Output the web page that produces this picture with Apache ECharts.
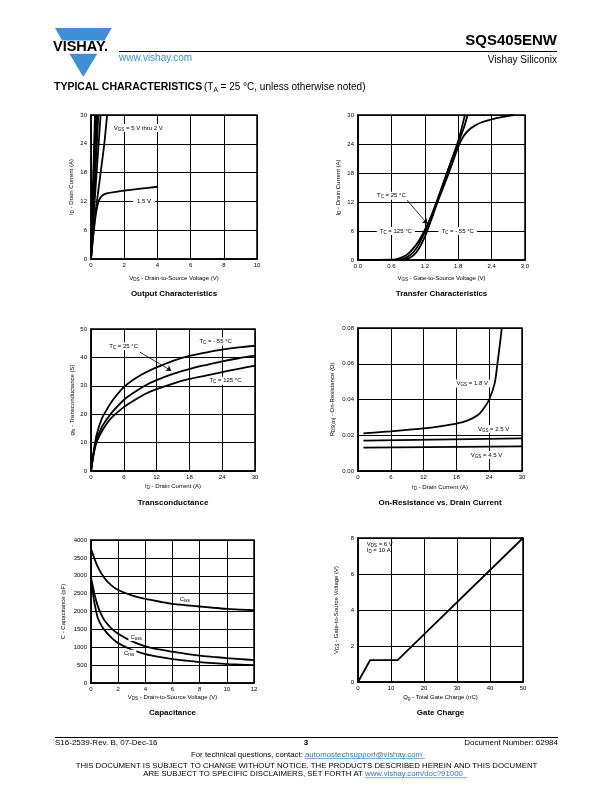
<!DOCTYPE html>
<html><head><meta charset="utf-8">
<script src="https://cdn.jsdelivr.net/npm/echarts@6/dist/echarts.min.js"></script>
<style>html,body{margin:0;padding:0;background:#fff}#c{width:612px;height:792px}</style>
</head><body><div id="c"></div>
<script>
// ================= DATA =================
// Output Characteristics (x: VDS V, y: ID A)
const outputXTicks = [0, 2, 4, 6, 8, 10];
const outputYTicks = [0, 6, 12, 18, 24, 30];
const outVgs5V   = [[0, 0], [0.24, 30]];
const outVgs4p5V = [[0, 0], [0.27, 30]];
const outVgs4V   = [[0, 0], [0.31, 30]];
const outVgs3p5V = [[0, 0], [0.36, 30]];
const outVgs3V   = [[0, 0], [0.44, 30]];
const outVgs2p5V = [[0, 0], [0.2, 11], [0.4, 21], [0.58, 30]];
const outVgs2V   = [[0, 0], [0.15, 6], [0.3, 10.5], [0.45, 14.5], [0.6, 18.5], [0.8, 24], [0.97, 30]];
const outVgs1p5V = [[0, 0], [0.1, 3.5], [0.2, 6.8], [0.3, 9.5], [0.4, 11.3], [0.5, 12.4], [0.7, 13.3], [1, 13.7], [1.5, 14.0], [2, 14.25], [3, 14.65], [4, 15.05]];

// Transfer Characteristics (x: VGS V, y: ID A)
const transferXTicks = [0, 0.6, 1.2, 1.8, 2.4, 3.0];
const transferYTicks = [0, 6, 12, 18, 24, 30];
const transferTc125 = [[0, 0], [0.6, 0.05], [0.7, 0.2], [0.8, 0.6], [0.9, 1.3], [1.0, 2.5], [1.1, 4.1], [1.2, 6.2], [1.3, 8.6], [1.4, 11.3], [1.5, 14.1], [1.6, 17.1], [1.7, 20.2], [1.8, 23.4], [1.9, 25.7], [2.0, 27.0], [2.1, 27.8], [2.2, 28.4], [2.4, 29.1], [2.6, 29.6], [2.8, 30]];
const transferTc25  = [[0, 0], [0.7, 0.02], [0.8, 0.2], [0.9, 0.7], [1.0, 1.7], [1.1, 3.4], [1.2, 5.8], [1.3, 8.6], [1.4, 11.7], [1.5, 14.9], [1.6, 18.1], [1.7, 21.2], [1.8, 24.2], [1.9, 27.3], [1.97, 30]];
const transferTcM55 = [[0, 0], [0.8, 0.02], [0.9, 0.3], [1.0, 1.0], [1.1, 2.5], [1.2, 4.8], [1.3, 7.8], [1.4, 11.1], [1.5, 14.6], [1.6, 18.0], [1.7, 21.3], [1.8, 24.6], [1.9, 29.0], [1.92, 30]];

// Transconductance (x: ID A, y: gfs S)
const gfsXTicks = [0, 6, 12, 18, 24, 30];
const gfsYTicks = [0, 10, 20, 30, 40, 50];
const gfsTcM55 = [[0, 0], [0.5, 7], [1, 12.5], [2, 18.5], [3, 22], [4, 25], [6, 29.5], [8, 32.5], [10, 34.7], [12, 36.5], [15, 38.8], [18, 40.5], [21, 41.7], [24, 42.7], [27, 43.5], [30, 44.1]];
const gfsTc25  = [[0, 0], [0.5, 6.5], [1, 11], [2, 15.5], [3, 18.5], [4, 21], [6, 25], [8, 27.8], [10, 30.2], [12, 32], [15, 34.2], [18, 35.9], [21, 37.3], [24, 38.6], [27, 39.7], [30, 40.6]];
const gfsTc125 = [[0, 0], [0.5, 6], [1, 10], [2, 14], [3, 17], [4, 19.2], [6, 22.5], [8, 25], [10, 27.2], [12, 28.8], [15, 30.8], [18, 32.4], [21, 33.6], [24, 34.8], [27, 36], [30, 37.1]];

// On-Resistance vs. Drain Current (x: ID A, y: RDS(on) ohm)
const rdsXTicks = [0, 6, 12, 18, 24, 30];
const rdsYTicks = [0, 0.02, 0.04, 0.06, 0.08];
const rdsVgs1p8V = [[1, 0.021], [3, 0.0215], [6, 0.0222], [9, 0.023], [12, 0.0238], [15, 0.025], [18, 0.0265], [20, 0.0282], [22, 0.0315], [23, 0.035], [24, 0.040], [25, 0.049], [25.5, 0.060], [26, 0.072], [26.3, 0.08]];
const rdsVgs2p5V = [[1, 0.0170], [30, 0.0183]];
const rdsVgs4p5V = [[1, 0.0131], [30, 0.0138]];

// Capacitance (x: VDS V, y: C pF)
const capXTicks = [0, 2, 4, 6, 8, 10, 12];
const capYTicks = [0, 500, 1000, 1500, 2000, 2500, 3000, 3500, 4000];
const capCiss = [[0, 3750], [0.5, 3250], [1, 2930], [1.5, 2730], [2, 2600], [3, 2450], [4, 2350], [5, 2280], [6, 2215], [7, 2175], [8, 2140], [9, 2105], [10, 2075], [11, 2055], [12, 2035]];
const capCoss = [[0, 2950], [0.25, 2500], [0.5, 2150], [0.75, 1920], [1, 1750], [1.5, 1530], [2, 1380], [3, 1170], [4, 1025], [5, 940], [6, 875], [7, 815], [8, 765], [9, 730], [10, 698], [11, 670], [12, 642]];
const capCrss = [[0, 2850], [0.25, 2250], [0.5, 1820], [0.75, 1620], [1, 1480], [1.5, 1270], [2, 1115], [3, 930], [4, 810], [5, 730], [6, 670], [7, 625], [8, 585], [9, 555], [10, 530], [11, 515], [12, 500]];

// Gate Charge (x: Qg nC, y: VGS V)
const qgXTicks = [0, 10, 20, 30, 40, 50];
const qgYTicks = [0, 2, 4, 6, 8];
const qgVgs = [[0, 0], [3.7, 1.22], [12, 1.22], [50, 8]];

// ================= CHART =================
const FONT = '"Liberation Sans", Arial, Helvetica, sans-serif';
const BLUE = '#3d8fd6';
const LINK = '#2f74c4';
const SUB = { s: { fontSize: 4.5, fontFamily: FONT, color: '#000', verticalAlign: 'bottom' } };

const grids = [
  { left: 91, top: 115, width: 166, height: 144 },
  { left: 358, top: 115, width: 167, height: 145 },
  { left: 91, top: 329, width: 164, height: 142 },
  { left: 358, top: 328, width: 164, height: 143 },
  { left: 91, top: 540, width: 163, height: 143 },
  { left: 358, top: 538, width: 165, height: 144 }
].map(g => Object.assign({ show: true, borderColor: '#000', borderWidth: 1.5, backgroundColor: '#fff' }, g));

const plain = v => String(v);
function axis(i, ticks, name, gap, isY, fmt) {
  return {
    gridIndex: i, type: 'value',
    min: ticks[0], max: ticks[ticks.length - 1], interval: ticks[1] - ticks[0],
    axisLine: { show: true, onZero: false, lineStyle: { color: '#000', width: 1.5 } },
    axisTick: { show: false },
    splitLine: { show: true, lineStyle: { color: '#000', width: 1 } },
    axisLabel: { fontSize: 6, color: '#000', fontFamily: FONT, margin: isY ? 4 : 3, formatter: fmt || plain },
    name: name, nameLocation: 'middle', nameGap: gap,
    nameTextStyle: { fontSize: 6, color: '#000', fontFamily: FONT, lineHeight: 8, rich: SUB }
  };
}

const xAxes = [
  axis(0, outputXTicks, 'V{s|DS} - Drain-to-Source Voltage (V)', 15, false),
  axis(1, transferXTicks, 'V{s|GS} - Gate-to-Source Voltage (V)', 14, false, v => v.toFixed(1)),
  axis(2, gfsXTicks, 'I{s|D} - Drain Current (A)', 11, false),
  axis(3, rdsXTicks, 'I{s|D} - Drain Current (A)', 12.5, false),
  axis(4, capXTicks, 'V{s|DS} - Drain-to-Source Voltage (V)', 10.5, false),
  axis(5, qgXTicks, 'Q{s|g} - Total Gate Charge (nC)', 11, false)
];
const yAxes = [
  axis(0, outputYTicks, 'I{s|D} - Drain Current (A)', 15.5, true),
  axis(1, transferYTicks, 'I{s|D} - Drain Current (A)', 16, true),
  axis(2, gfsYTicks, 'g{s|fs} - Transconductance (S)', 14, true),
  axis(3, rdsYTicks, 'R{s|DS(on)} - On-Resistance (Ω)', 22, true, v => v.toFixed(2)),
  axis(4, capYTicks, 'C - Capacitance (pF)', 23.5, true),
  axis(5, qgYTicks, 'V{s|GS} - Gate-to-Source Voltage (V)', 17.5, true)
];

function line(i, data, smooth, extra) {
  return Object.assign({
    type: 'line', xAxisIndex: i, yAxisIndex: i, data: data, showSymbol: false, symbol: 'none',
    smooth: smooth ? 0.3 : false, clip: true, silent: true,
    lineStyle: { color: '#000', width: 1.8 }
  }, extra || {});
}
function lbl(coord, text, opt) {
  return {
    coord: coord, symbol: 'circle', symbolSize: 1, itemStyle: { color: 'rgba(0,0,0,0)' },
    label: Object.assign({
      show: true, position: 'inside', formatter: text, fontSize: 6, color: '#000', fontFamily: FONT,
      lineHeight: 8, backgroundColor: '#fff', padding: [0, 2, 0, 2], rich: SUB
    }, opt || {})
  };
}
function marks(points, arrows) {
  const o = { markPoint: { silent: true, animation: false, data: points } };
  if (arrows) {
    o.markLine = {
      silent: true, animation: false, symbol: ['none', 'arrow'], symbolSize: 5,
      label: { show: false }, lineStyle: { color: '#000', width: 0.8, type: 'solid' },
      data: arrows.map(a => [{ coord: a[0] }, { coord: a[1] }])
    };
  }
  return o;
}

const series = [
  line(0, outVgs5V), line(0, outVgs4p5V), line(0, outVgs4V), line(0, outVgs3p5V),
  line(0, outVgs3V), line(0, outVgs2p5V, true), line(0, outVgs2V, true),
  line(0, outVgs1p5V, true, marks([
    lbl([2.85, 27.3], 'V{s|GS} = 5 V thru 2 V'),
    lbl([3.2, 12], '1.5 V', { padding: [0, 4, 0, 4] })
  ])),

  line(1, transferTc125, true), line(1, transferTc25, true),
  line(1, transferTcM55, true, marks([
    lbl([0.6, 13.3], 'T{s|C} = 25 °C'),
    lbl([0.68, 6], 'T{s|C} = 125 °C', { padding: [0, 3, 0, 3] }),
    lbl([1.79, 6], 'T{s|C} = - 55 °C', { padding: [0, 3, 0, 3] })
  ], [[[0.88, 12.4], [1.245, 7.5]]])),

  line(2, gfsTcM55, true), line(2, gfsTc25, true),
  line(2, gfsTc125, true, marks([
    lbl([5.96, 43.9], 'T{s|C} = 25 °C'),
    lbl([22.8, 45.6], 'T{s|C} = - 55 °C'),
    lbl([24.6, 31.8], 'T{s|C} = 125 °C')
  ], [[[8.9, 41.9], [14.7, 35.3]]])),

  line(3, rdsVgs1p8V, true), line(3, rdsVgs2p5V),
  line(3, rdsVgs4p5V, false, marks([
    lbl([20.9, 0.049], 'V{s|GS} = 1.8 V'),
    lbl([24.8, 0.0235], 'V{s|GS} = 2.5 V'),
    lbl([23.5, 0.009], 'V{s|GS} = 4.5 V')
  ])),

  line(4, capCiss, true), line(4, capCoss, true),
  line(4, capCrss, true, marks([
    lbl([6.9, 2353], 'C{s|iss}'),
    lbl([3.32, 1284], 'C{s|oss}'),
    lbl([2.81, 819], 'C{s|rss}')
  ])),

  line(5, qgVgs, false, marks([
    lbl([2.5, 7.63], 'V{s|DS} = 6 V', { position: 'right', distance: 0, padding: 0, backgroundColor: 'transparent' }),
    lbl([2.5, 7.31], 'I{s|D} = 10 A', { position: 'right', distance: 0, padding: 0, backgroundColor: 'transparent' })
  ]))
];

function txt(x, y, text, font, opt) {
  return {
    type: 'text', x: x, y: y, silent: true,
    style: Object.assign({ text: text, font: font, fill: '#000', align: 'left', verticalAlign: 'middle' }, opt || {})
  };
}
function hline(x1, x2, y, color, w) {
  return { type: 'line', silent: true, shape: { x1: x1, y1: y, x2: x2, y2: y }, style: { stroke: color, lineWidth: w } };
}
const TITLE = 'bold 8px ' + FONT;
const FOOT = '7.8px ' + FONT;
const graphic = [
  // logo
  { type: 'polygon', silent: true, shape: { points: [[55, 28], [111.7, 28], [104.6, 40.6], [62.1, 40.6]] }, style: { fill: BLUE } },
  { type: 'polygon', silent: true, shape: { points: [[69.4, 53.8], [97.3, 53.8], [83.3, 77]] }, style: { fill: BLUE } },
  txt(53, 47.3, 'VISHAY.', 'bold 14.5px ' + FONT),
  hline(119, 557, 51.5, '#000', 1),
  txt(119, 58.5, 'www.vishay.com', '10px ' + FONT, { fill: BLUE }),
  txt(557, 40.5, 'SQS405ENW', 'bold 15px ' + FONT, { align: 'right' }),
  txt(557, 60, 'Vishay Siliconix', '10px ' + FONT, { align: 'right' }),
  txt(54, 87, 'TYPICAL CHARACTERISTICS', '900 10.5px ' + FONT),
  txt(204, 87.5, '(T{s|A} = 25 °C, unless otherwise noted)', '10px ' + FONT, { rich: { s: { fontSize: 6.5, fontFamily: FONT, verticalAlign: 'bottom' } }, lineHeight: 12 }),
  // chart titles
  txt(174, 294, 'Output Characteristics', TITLE, { align: 'center' }),
  txt(441.5, 294, 'Transfer Characteristics', TITLE, { align: 'center' }),
  txt(173, 503, 'Transconductance', TITLE, { align: 'center' }),
  txt(440, 503, 'On-Resistance vs. Drain Current', TITLE, { align: 'center' }),
  txt(172.5, 713, 'Capacitance', TITLE, { align: 'center' }),
  txt(440.5, 713, 'Gate Charge', TITLE, { align: 'center' }),
  // footer
  hline(55, 558, 737.5, '#000', 1),
  txt(55, 743, 'S16-2539-Rev. B, 07-Dec-16', '8px ' + FONT),
  txt(306, 743, '3', 'bold 8px ' + FONT, { align: 'center' }),
  txt(558, 743, 'Document Number: 62984', '8px ' + FONT, { align: 'right' }),
  txt(305, 754.5, 'For technical questions, contact: ', FOOT, { align: 'right' }),
  txt(305, 754.5, 'automostechsupport@vishay.com', FOOT, { fill: LINK }),
  hline(305, 425, 758.5, LINK, 0.6),
  txt(306.5, 766, 'THIS DOCUMENT IS SUBJECT TO CHANGE WITHOUT NOTICE. THE PRODUCTS DESCRIBED HEREIN AND THIS DOCUMENT', FOOT, { align: 'center' }),
  txt(365, 773.7, 'ARE SUBJECT TO SPECIFIC DISCLAIMERS, SET FORTH AT ', FOOT, { align: 'right' }),
  txt(365, 773.7, 'www.vishay.com/doc?91000', FOOT, { fill: LINK }),
  hline(365, 467, 777.7, LINK, 0.6)
];

const chart = echarts.init(document.getElementById('c'), null, { renderer: 'canvas', width: 612, height: 792 });
chart.setOption({
  animation: false,
  backgroundColor: '#fff',
  textStyle: { fontFamily: FONT },
  grid: grids,
  xAxis: xAxes,
  yAxis: yAxes,
  series: series,
  graphic: graphic
});
</script>
</body></html>
